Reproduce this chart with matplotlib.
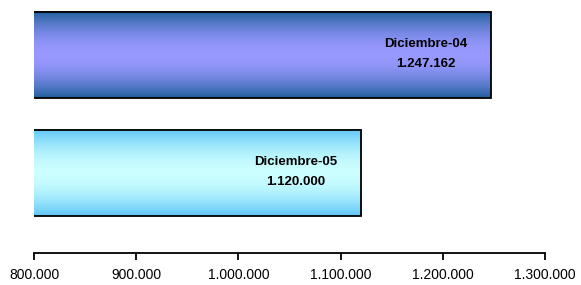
import numpy as np
import matplotlib
matplotlib.use("Agg")
import matplotlib.pyplot as plt
from matplotlib.colors import to_rgb
from matplotlib.ticker import FuncFormatter

plt.rcParams['font.family'] = ['Liberation Sans', 'DejaVu Sans']

categories = ["Diciembre-05", "Diciembre-04"]
values = [1120000, 1247162]
value_labels = ["1.120.000", "1.247.162"]
edge_colors = ["#5EC6F8", "#1F5F9C"]
center_colors = ["#CCFFFF", "#9999FF"]
xticks = [800000, 900000, 1000000, 1100000, 1200000, 1300000]

fig = plt.figure(figsize=(5.81, 2.85), dpi=100)
ax = fig.add_axes([34/581, 32/285, (545-34)/581, 253/285])
ax.set_xlim(800000, 1300000)
ax.set_ylim(-0.678, 1.466)

bar_h = 0.73
bars = ax.barh(range(len(categories)), values, height=bar_h, left=0,
               color='none', edgecolor='black', linewidth=1.3, zorder=3)

n = 256
t = np.linspace(0, 1, n)
prof = np.abs(t - 0.5) * 2
prof = prof ** 1.8
for i, b in enumerate(bars):
    ec = np.array(to_rgb(edge_colors[i]))
    cc = np.array(to_rgb(center_colors[i]))
    img = cc[None, :] * (1 - prof[:, None]) + ec[None, :] * prof[:, None]
    img = img[:, None, :]
    y0 = i - bar_h / 2
    y1 = i + bar_h / 2
    im = ax.imshow(img, extent=[800000, values[i], y0, y1], aspect='auto',
                   origin='lower', zorder=2, interpolation='bilinear')
    ax.annotate(categories[i], xy=(values[i], i), xytext=(-65, 11),
                textcoords='offset pixels', ha='center', va='center',
                fontsize=9.5, fontweight='bold', zorder=4)
    ax.annotate(value_labels[i], xy=(values[i], i), xytext=(-65, -9),
                textcoords='offset pixels', ha='center', va='center',
                fontsize=9.5, fontweight='bold', zorder=4)

ax.set_xlim(800000, 1300000)
ax.set_ylim(-0.678, 1.466)

for s in ['top', 'right', 'left']:
    ax.spines[s].set_visible(False)
ax.spines['bottom'].set_linewidth(1.3)
ax.set_yticks([])
ax.set_xticks(xticks)
ax.xaxis.set_major_formatter(FuncFormatter(lambda v, p: f"{int(v):,}".replace(",", ".")))
ax.tick_params(axis='x', direction='out', length=5, width=1.3, labelsize=10, pad=6)

fig.savefig("out.png", dpi=100)
